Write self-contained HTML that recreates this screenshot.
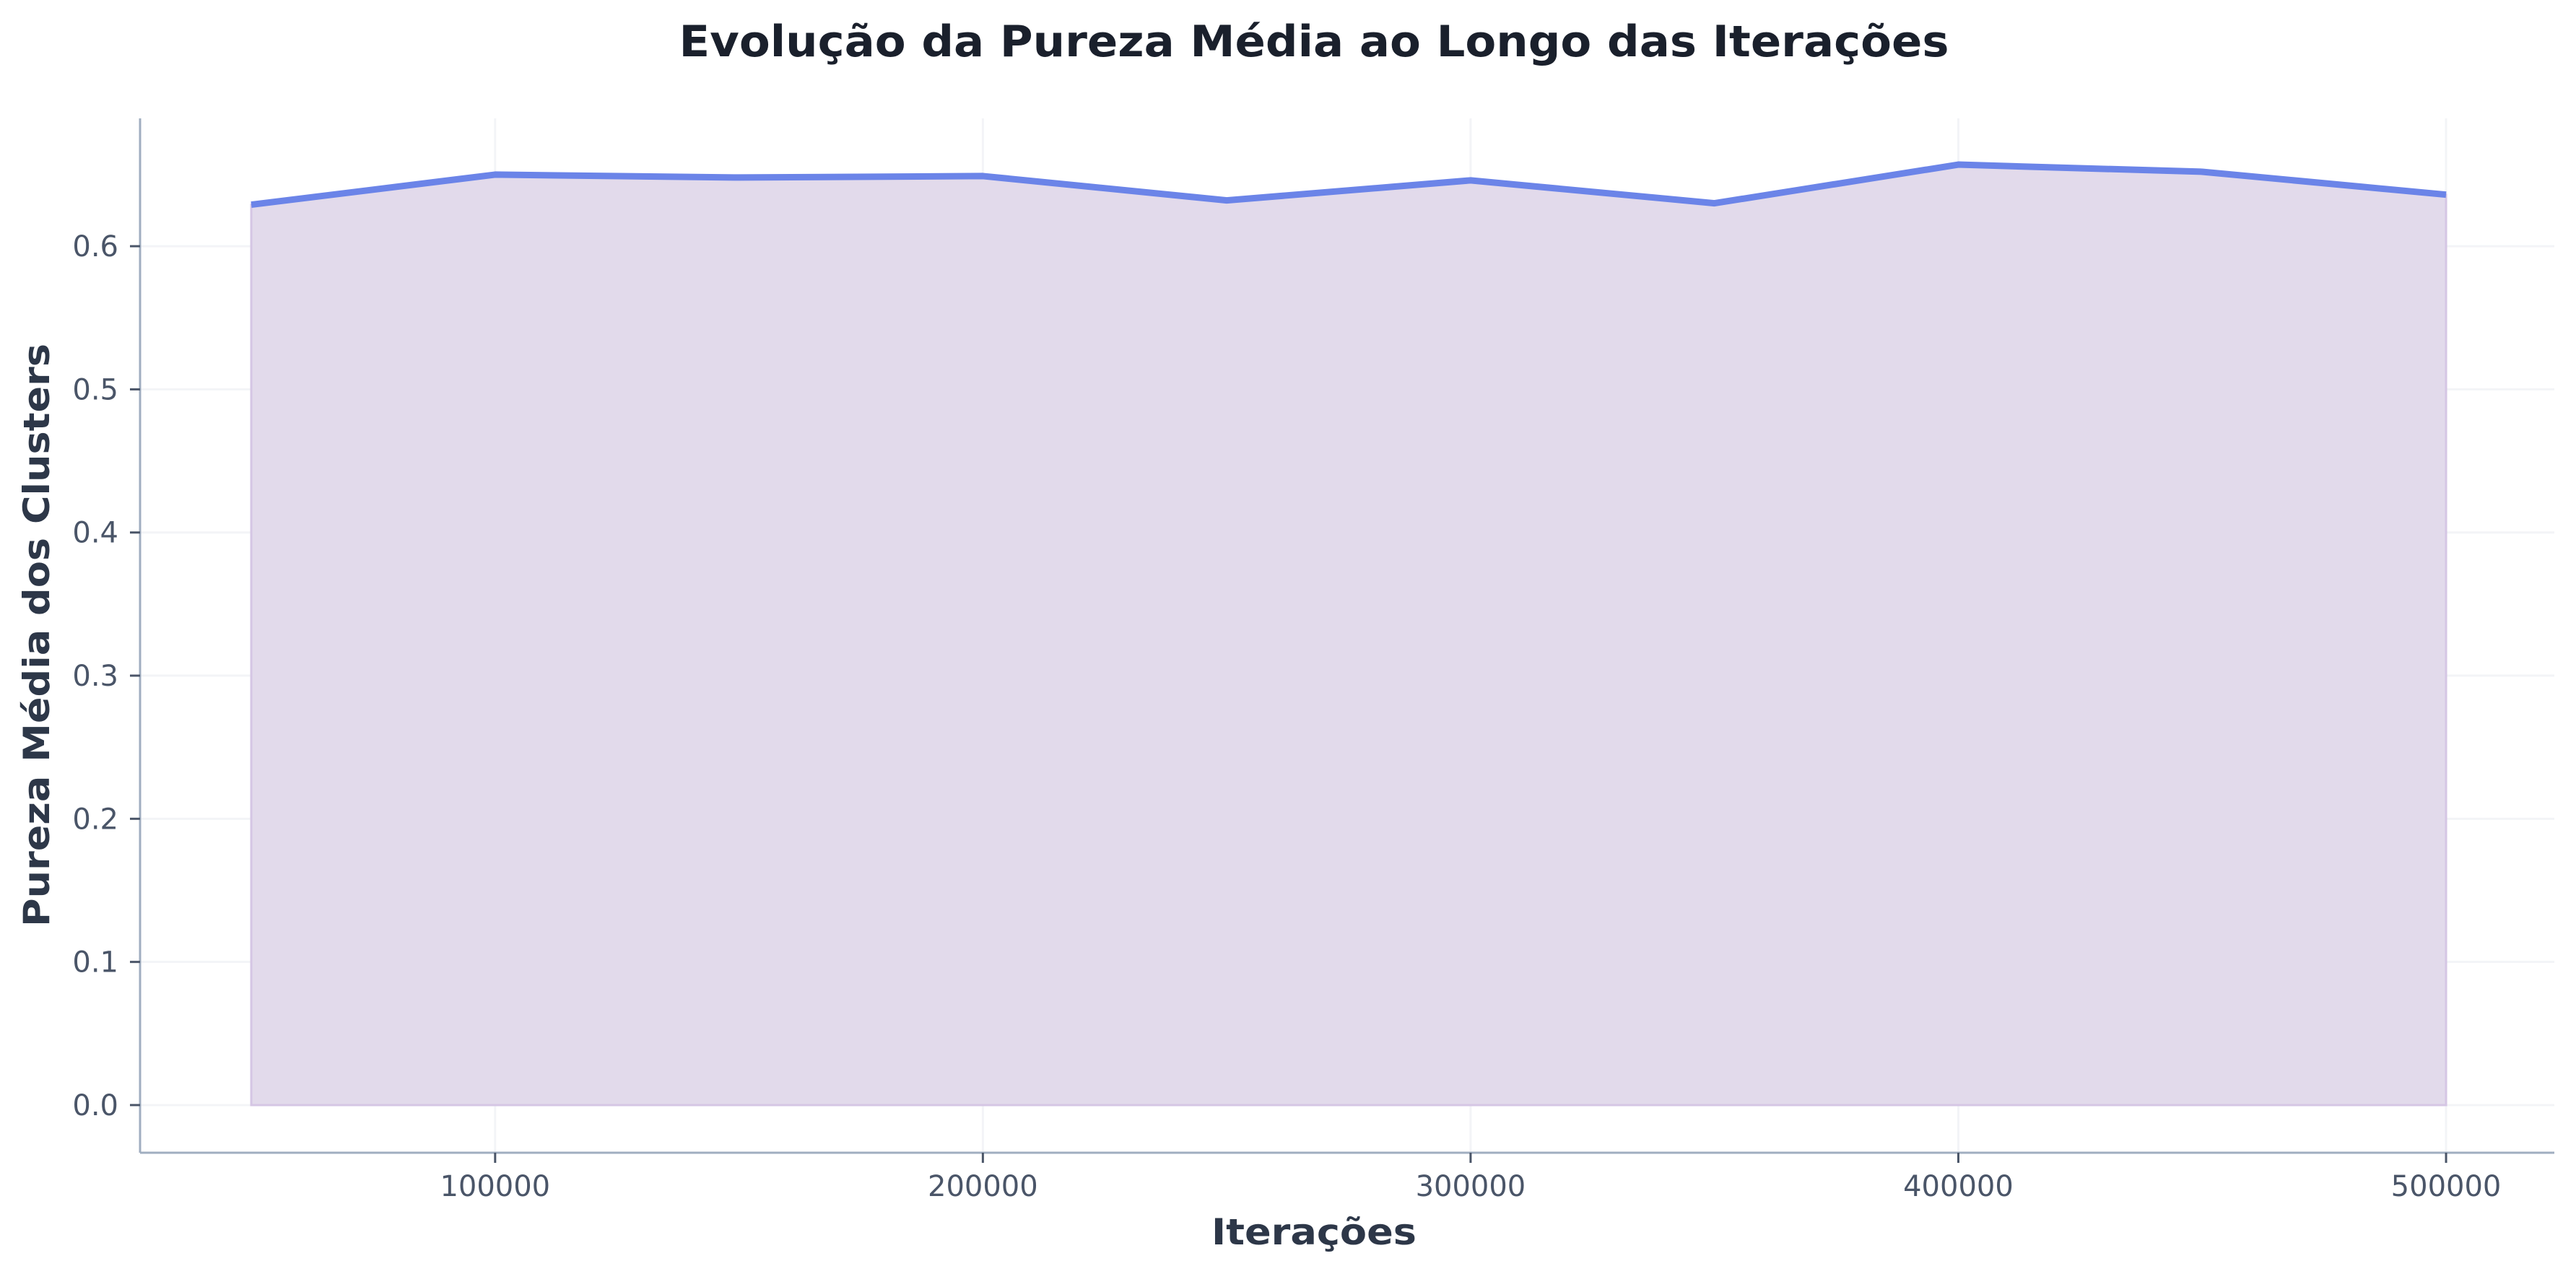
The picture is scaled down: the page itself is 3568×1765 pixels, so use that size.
<!DOCTYPE html>
<html><head><meta charset="utf-8"><style>
html,body{margin:0;padding:0;background:#fff;}
svg{display:block;font-family:"DejaVu Sans","Liberation Sans",sans-serif;}
</style></head><body>
<svg id="chart" width="3568" height="1765" viewBox="0 0 3568 1765">
<rect width="3568" height="1765" fill="#ffffff"/>
<text x="1820" y="78" text-anchor="middle" font-size="60" font-weight="bold" fill="#1a202c" textLength="1759" lengthAdjust="spacingAndGlyphs">Evolução da Pureza Média ao Longo das Iterações</text>
<g id="grid"></g>
<g id="marks"></g>
<g id="axes"></g>
<text x="1820" y="1724" text-anchor="middle" font-size="50" font-weight="bold" fill="#2d3748" textLength="284" lengthAdjust="spacingAndGlyphs">Iterações</text>
<text transform="translate(68,880) rotate(-90)" text-anchor="middle" font-size="50" font-weight="bold" fill="#2d3748" textLength="808" lengthAdjust="spacingAndGlyphs">Pureza Média dos Clusters</text>
</svg>
<script>
const iterations = [50000,100000,150000,200000,250000,300000,350000,400000,450000,500000];
const purity = [0.629,0.650,0.648,0.649,0.632,0.646,0.630,0.657,0.652,0.636];
const xTicks = [100000,200000,300000,400000,500000];
const yTicks = [0.0,0.1,0.2,0.3,0.4,0.5,0.6];
const yTickLabels = ["0.0","0.1","0.2","0.3","0.4","0.5","0.6"];

const L=194, R=3538, T=164, B=1597;
const xMin=27200, xMax=522200, yMin=-0.0333, yMax=0.6893;
const sx=v=>L+(v-xMin)/(xMax-xMin)*(R-L);
const sy=v=>B-(v-yMin)/(yMax-yMin)*(B-T);
const NS="http://www.w3.org/2000/svg";
function mk(tag,attrs,parent){const e=document.createElementNS(NS,tag);for(const k in attrs)e.setAttribute(k,attrs[k]);parent.appendChild(e);return e;}
const grid=document.getElementById('grid'), marks=document.getElementById('marks'), axes=document.getElementById('axes');

xTicks.forEach(v=>{
  const g=mk('line',{x1:sx(v),x2:sx(v),y1:T,y2:B,stroke:'#f3f4f7','stroke-width':3},grid);
  
  
});
yTicks.forEach(v=>{
  const g=mk('line',{x1:L,x2:R,y1:sy(v),y2:sy(v),stroke:'#f3f4f7','stroke-width':3},grid);
  
  
});

let area='M'+sx(iterations[0])+','+sy(0);
iterations.forEach((x,i)=>{area+=' L'+sx(x)+','+sy(purity[i]);});
area+=' L'+sx(iterations[iterations.length-1])+','+sy(0)+' Z';
const fill=mk('path',{d:area,fill:'#e2daeb',stroke:'#d5c6e4','stroke-width':3},marks);



const pts=iterations.map((x,i)=>sx(x)+','+sy(purity[i])).join(' ');
const line=mk('polyline',{points:pts,fill:'none',stroke:'#6b84e8','stroke-width':9,'stroke-linejoin':'round'},marks);



const ys=mk('line',{x1:L,x2:L,y1:T,y2:B,stroke:'#a0aec0','stroke-width':3},axes);


const xs=mk('line',{x1:L,x2:R,y1:B,y2:B,stroke:'#a0aec0','stroke-width':3},axes);



xTicks.forEach(v=>{
  const t=mk('line',{x1:sx(v),x2:sx(v),y1:B,y2:B+14,stroke:'#4a5568','stroke-width':3},axes);
  
  
  const l=mk('text',{x:sx(v),y:B+60,'text-anchor':'middle','font-size':40,fill:'#4a5568'},axes);
  l.textContent=String(v);
  
  
});
yTicks.forEach((v,i)=>{
  const t=mk('line',{x1:L-14,x2:L,y1:sy(v),y2:sy(v),stroke:'#4a5568','stroke-width':3},axes);
  
  
  const l=mk('text',{x:L-30,y:sy(v)+14,'text-anchor':'end','font-size':40,fill:'#4a5568'},axes);
  l.textContent=yTickLabels[i];
  
  
});
</script>
</body></html>
